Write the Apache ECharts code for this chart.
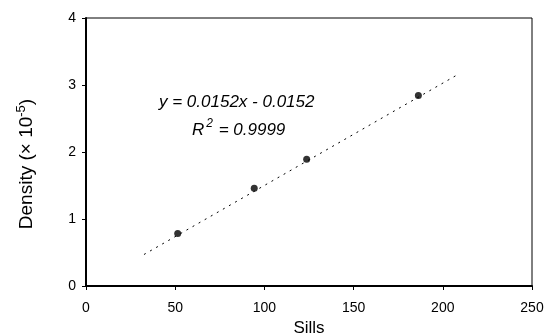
<!DOCTYPE html>
<html><head><meta charset="utf-8">
<script src="https://cdn.jsdelivr.net/npm/echarts@6/dist/echarts.min.js"></script>
<style>html,body{margin:0;padding:0;background:#fff}#c{width:545px;height:335px}</style>
</head><body><div id="c"></div>
<script>
const sills = [51.4, 94.3, 123.7, 186.3];
const density = [0.784, 1.458, 1.892, 2.844];
const trendX = [32.5, 208];
const trendY = [0.47, 3.15];
const xTicks = [0, 50, 100, 150, 200, 250];
const yTicks = [0, 1, 2, 3, 4];
const eqText = 'y = 0.0152x - 0.0152';
const r2Value = '0.9999';

const chart = echarts.init(document.getElementById('c'), null, {renderer: 'canvas'});
const font = 'Liberation Sans, Arial, sans-serif';
chart.setOption({
  animation: false,
  grid: {left: 86, right: 13, top: 18, bottom: 49, show: true, borderColor: '#000', borderWidth: 1,
    outerBoundsMode: 'none', containLabel: false},
  xAxis: {
    type: 'value', min: xTicks[0], max: xTicks[xTicks.length-1], interval: 50,
    name: 'Sills', nameLocation: 'middle', nameGap: 34,
    nameTextStyle: {fontFamily: font, fontSize: 17, color: '#000'},
    axisLine: {lineStyle: {color: '#000', width: 2}},
    axisTick: {show: true, length: 4, lineStyle: {color: '#000', width: 1}},
    axisLabel: {fontFamily: font, fontSize: 14, color: '#000', margin: 15},
    splitLine: {show: false}
  },
  yAxis: {
    type: 'value', min: yTicks[0], max: yTicks[yTicks.length-1], interval: 1,
    name: 'Density (× 10{sup|-5})', nameLocation: 'middle', nameGap: 48,
    nameTextStyle: {fontFamily: font, fontSize: 19, color: '#000', padding: [0, 24, 0, 0],
      rich: {sup: {fontFamily: font, fontSize: 13, color: '#000', verticalAlign: 'top', padding: [0,0,10,0]}}},
    axisLine: {show: true, lineStyle: {color: '#000', width: 2}},
    axisTick: {show: true, length: 4, lineStyle: {color: '#000', width: 1}},
    axisLabel: {fontFamily: font, fontSize: 14, color: '#000', margin: 10},
    splitLine: {show: false}
  },
  series: [
    {type: 'line', data: trendX.map((x,i)=>[x, trendY[i]]), showSymbol: false, symbol: 'none',
     lineStyle: {color: '#000', width: 1, type: [2, 5]}, silent: true},
    {type: 'scatter', data: sills.map((x,i)=>[x, density[i]]), symbol: 'circle', symbolSize: 7,
     itemStyle: {color: '#000'}}
  ],
  graphic: [
    {type: 'text', left: 159, top: 94, style: {text: eqText, font: 'italic 17px ' + font, fill: '#000'}},
    {type: 'text', left: 192, top: 118, style: {text: '{r|R}{s|2}{r| = ' + r2Value + '}', fill: '#000',
      rich: {r: {font: 'italic 17px ' + font, fill: '#000', verticalAlign: 'bottom'}, s: {font: 'italic 12px ' + font, fill: '#000', padding: [0,1,9,2], verticalAlign: 'top'}}}}
  ]
});
</script></body></html>
